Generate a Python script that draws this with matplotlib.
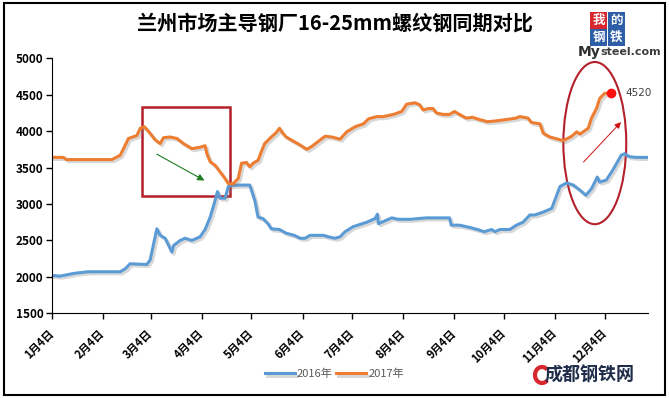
import matplotlib.pyplot as plt
import matplotlib.patheffects as pe
from matplotlib.patches import Rectangle, Ellipse, Arc

plt.rcParams['font.family'] = ['Noto Sans CJK SC', 'DejaVu Sans']

# 横轴：自1月4日起的天数
tick_days = [0, 31, 60, 91, 121, 152, 182, 213, 244, 274, 305, 335]
tick_labels = ['1月4日', '2月4日', '3月4日', '4月4日', '5月4日', '6月4日',
               '7月4日', '8月4日', '9月4日', '10月4日', '11月4日', '12月4日']

# 2016年
days_2016 = [0, 5, 14, 22, 41.5, 44.5, 47.5, 57.6, 59.6, 63.7, 65.7, 68.7, 72.8, 73.8,
             77.8, 80.8, 84.9, 89.9, 92.9, 96, 99, 100.4, 102, 105, 107, 110, 120, 123,
             125, 128, 131, 133, 138, 142, 147, 150.5, 153.5, 156.5, 164.6, 167.6, 171.6,
             174.7, 177.7, 182.7, 186.8, 190.8, 195.9, 197.3, 197.9, 201.9, 206, 210, 217,
             227, 241, 242, 247, 253, 258, 262, 266.5, 268.5, 271.5, 277.5, 281.5, 285.5,
             289.7, 292.7, 297.8, 302.9, 307.9, 311.9, 316, 320, 323.6, 327, 330.5, 332,
             336, 340, 345, 347, 350, 354, 361]
price_2016 = [2020, 2010, 2050, 2070, 2070, 2110, 2180, 2170, 2230, 2660, 2570, 2530, 2340, 2430,
              2500, 2530, 2500, 2550, 2650, 2820, 3050, 3170, 3080, 3080, 3240, 3260, 3260, 3050,
              2820, 2800, 2730, 2660, 2650, 2600, 2570, 2530, 2530, 2570, 2570, 2550, 2530,
              2550, 2620, 2690, 2720, 2750, 2800, 2860, 2730, 2770, 2810, 2790, 2790,
              2810, 2810, 2710, 2710, 2680, 2650, 2620, 2650, 2620, 2650, 2650, 2710, 2750,
              2850, 2850, 2890, 2940, 3240, 3290, 3260, 3190, 3120, 3210, 3370, 3300,
              3330, 3470, 3670, 3690, 3650, 3640, 3640]

# 2017年
days_2017 = [0, 7, 9, 36.5, 41.5, 43.5, 46.5, 51.6, 53.6, 56.2, 59.6, 62.7, 65.7, 67.7, 71.7,
             75.8, 79.8, 84.9, 89.9, 92.9, 94, 96, 99, 102, 105, 107, 110, 113, 115, 118, 120,
             122, 125, 127, 129, 133, 136, 138, 140, 142, 145, 150.5, 154.5, 157.5, 161.5,
             165.6, 169.7, 174.7, 178.7, 183.7, 188.8, 192, 196.9, 200.9, 207, 212, 215, 220,
             223, 225, 228, 231, 233, 237, 241, 244, 247, 251, 255, 259, 264, 269, 275.5,
             281.5, 283.5, 288.5, 290.5, 295.8, 297.8, 301.8, 309.9, 315, 318, 320, 325, 327,
             330, 332, 335, 339]
price_2017 = [3640, 3640, 3610, 3610, 3670, 3760, 3900, 3940, 4040, 4060, 3970, 3880, 3830, 3910, 3920,
              3900, 3830, 3760, 3780, 3800, 3690, 3580, 3530, 3440, 3350, 3280, 3280, 3350, 3560, 3570, 3510,
              3560, 3600, 3720, 3830, 3920, 3980, 4040, 3970, 3920, 3880, 3810, 3750, 3790, 3860,
              3930, 3920, 3890, 3990, 4060, 4100, 4170, 4200, 4200, 4230, 4270, 4370, 4390,
              4360, 4290, 4310, 4310, 4250, 4230, 4230, 4270, 4230, 4180, 4190, 4160, 4130, 4140, 4160,
              4180, 4200, 4180, 4120, 4100, 3970, 3920, 3870, 3930, 3990, 3960, 4040, 4180,
              4310, 4450, 4520, 4520]

last_value = 4520

blue = '#5b9bd5'
orange = '#ed7d31'
dark_red = '#b3202a'

fig = plt.figure(figsize=(6.69, 3.98), dpi=100)
ax = fig.add_axes([0.0773, 0.2128, 0.892, 0.6407])

shadow = [pe.SimpleLineShadow(offset=(1.5, -1.5), shadow_color='#808080', alpha=0.3), pe.Normal()]
ax.plot(days_2016, price_2016, color=blue, lw=2.2, label='2016年', path_effects=shadow,
        solid_joinstyle='round')
ax.plot(days_2017, price_2017, color=orange, lw=2.2, label='2017年', path_effects=shadow,
        solid_joinstyle='round')

ax.set_xlim(0, 361.5)
ax.set_ylim(1500, 5000)
ax.set_yticks(range(1500, 5001, 500))
ax.set_xticks(tick_days)
ax.set_xticklabels(tick_labels, rotation=45, ha='right', va='center', rotation_mode='anchor',
                   fontsize=8, fontweight='bold')
for lab in ax.get_yticklabels():
    lab.set_fontweight('bold')
    lab.set_fontsize(8.5)
ax.tick_params(axis='both', direction='out', length=4, width=1, colors='black', pad=2)
ax.tick_params(axis='x', pad=9)
ax.spines['top'].set_visible(False)
ax.spines['right'].set_visible(False)

# 标注
ax.add_patch(Rectangle((54.6, 3112), 53.4, 1223, fill=False, edgecolor=dark_red, lw=1.8))
ax.annotate('', xy=(94, 3304), xytext=(62.2, 3703),
            arrowprops=dict(arrowstyle='-|>', color='#1e7b1e', lw=0.8, mutation_scale=10))
ax.add_patch(Ellipse((329, 3836), 38.1, 2226, fill=False, edgecolor=dark_red, lw=1.5))
ax.annotate('', xy=(346, 4152), xytext=(321, 3548),
            arrowprops=dict(arrowstyle='-|>', color='#d01010', lw=0.7, mutation_scale=9))
ax.plot(days_2017[-1], last_value, 'o', color='#ff1010', ms=6, zorder=5)
ax.text(347.5, last_value, str(last_value), color='#404040', fontsize=7.5, va='center',
        family='DejaVu Sans')

fig.suptitle('兰州市场主导钢厂16-25mm螺纹钢同期对比', x=0.5, y=0.968, fontsize=14.5,
             fontweight='bold')

leg = fig.legend(loc='center', bbox_to_anchor=(0.5, 0.06), ncol=2, frameon=False,
                 fontsize=8, handlelength=2.7, handletextpad=0.2, columnspacing=0.3)
for t in leg.get_texts():
    t.set_color('#595959')

# Mysteel 标志
logo_cells = [('我', '#d7282f', 590, 12), ('的', '#2f5ea8', 608, 12),
              ('钢', '#2f5ea8', 590, 29), ('铁', '#2f5ea8', 608, 29)]
W, H = 669, 398
for ch, col, px, py in logo_cells:
    fig.patches.append(Rectangle((px / W, 1 - (py + 17) / H), 17 / W, 17 / H,
                                 transform=fig.transFigure, facecolor=col, edgecolor='none'))
    fig.text((px + 8.5) / W, 1 - (py + 8.5) / H, ch, color='white', fontsize=9,
             fontweight='bold', ha='center', va='center')
fig.text(578 / W, 1 - 52 / H, 'My', fontsize=10, fontweight='bold', color='#303030',
         va='center', family='DejaVu Sans')
fig.text(600 / W, 1 - 52 / H, 'steel.com', fontsize=8, fontweight='bold', color='#404040',
         va='center', family='DejaVu Sans')

# 成都钢铁网 标志
fig.patches.append(Arc((542 / W, 1 - 375 / H), 14 / W, 16 / H, theta1=60, theta2=300,
                       transform=fig.transFigure, color='#d7282f', lw=3))
fig.text(545 / W, 1 - 375 / H, '成都钢铁网', fontsize=13, fontweight='bold', color='#1f2d4a',
         va='center', ha='left')

# 外框
fig.patches.append(Rectangle((4 / W, 3 / H), 661 / W, 392 / H, transform=fig.transFigure,
                             fill=False, edgecolor='black', lw=1.5))

fig.savefig('out.png', dpi=100)
